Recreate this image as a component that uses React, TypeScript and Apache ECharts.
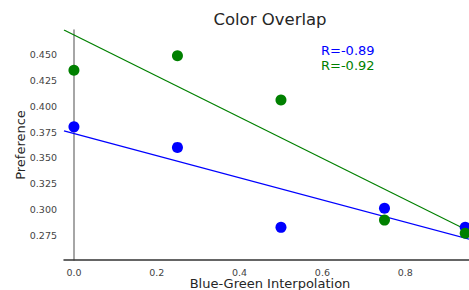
import React, { useEffect, useRef } from "react";
import * as echarts from "echarts";

const xValues = [0, 0.25, 0.5, 0.75, 0.945];
const blueValues = [0.380, 0.3602, 0.283, 0.3014, 0.283];
const greenValues = [0.4346, 0.4487, 0.4059, 0.290, 0.2773];
const blueFitX = [-0.024, 0.971];
const blueFitY = [0.3762, 0.2699];
const greenFitX = [-0.024, 0.971];
const greenFitY = [0.4735, 0.276];
const xTicks = [0, 0.2, 0.4, 0.6, 0.8];
const yTicks = [0.275, 0.3, 0.325, 0.35, 0.375, 0.4, 0.425, 0.45];
const rLabels = ["R=-0.89", "R=-0.92"];

const FONT = "DejaVu Sans";

export default function App() {
  const ref = useRef<HTMLDivElement>(null);
  useEffect(() => {
    if (!ref.current) return;
    const chart = echarts.init(ref.current, null, { renderer: "svg" });
    const pts = (ys: number[]) => xValues.map((x, i) => [x, ys[i]]);
    const fit = (xs: number[], ys: number[]) => xs.map((x, i) => [x, ys[i]]);
    chart.setOption({
      animation: false,
      backgroundColor: "#ffffff",
      grid: { left: 64, right: -7, top: 30, bottom: 30, containLabel: false, outerBoundsMode: "none" },
      xAxis: {
        type: "value",
        min: -0.024,
        max: 0.971,
        splitLine: { show: false },
        axisLine: { show: true, lineStyle: { color: "#333333", width: 1.5 } },
        axisTick: { show: false },
        axisLabel: {
          customValues: xTicks,
          formatter: (v: number) => v.toFixed(1),
          color: "#444444",
          fontFamily: FONT,
          fontSize: 9.5,
          margin: 7,
        },
        name: "Blue-Green Interpolation",
        nameLocation: "middle",
        nameGap: 17,
        nameMoveOverlap: false,
        nameTextStyle: { fontFamily: FONT, fontSize: 13, color: "#262626" },
      },
      yAxis: {
        type: "value",
        min: 0.2515,
        max: 0.4735,
        splitLine: { show: false },
        axisLine: { show: true, lineStyle: { color: "#888888", width: 1.5 } },
        axisTick: { show: false },
        axisLabel: {
          customValues: yTicks,
          formatter: (v: number) => v.toFixed(3),
          color: "#444444",
          fontFamily: FONT,
          fontSize: 9.5,
          margin: 7,
        },
        name: "Preference",
        nameLocation: "middle",
        nameGap: 37,
        nameMoveOverlap: false,
        nameTextStyle: { fontFamily: FONT, fontSize: 13, color: "#262626" },
      },
      series: [
        {
          type: "line",
          data: fit(greenFitX, greenFitY),
          showSymbol: false,
          lineStyle: { color: "green", width: 1.3 },
          z: 1,
        },
        {
          type: "line",
          data: fit(blueFitX, blueFitY),
          showSymbol: false,
          lineStyle: { color: "#0000ff", width: 1.3 },
          z: 1,
        },
        {
          type: "scatter",
          data: pts(blueValues),
          symbolSize: 11,
          itemStyle: { color: "#0000ff", opacity: 1 },
          z: 2,
        },
        {
          type: "scatter",
          data: pts(greenValues),
          symbolSize: 11,
          itemStyle: { color: "green", opacity: 1 },
          z: 3,
        },
      ],
      graphic: [
        {
          type: "text",
          x: 270,
          y: 19,
          style: {
            text: "Color Overlap",
            fontFamily: FONT,
            fontSize: 16.5,
            fill: "#262626",
            textAlign: "center",
            textVerticalAlign: "middle",
          },
        },
        {
          type: "text",
          x: 321,
          y: 50,
          style: {
            text: rLabels[0],
            fontFamily: FONT,
            fontSize: 13,
            fill: "#0000ff",
            textAlign: "left",
            textVerticalAlign: "middle",
          },
        },
        {
          type: "text",
          x: 321,
          y: 65,
          style: {
            text: rLabels[1],
            fontFamily: FONT,
            fontSize: 13,
            fill: "green",
            textAlign: "left",
            textVerticalAlign: "middle",
          },
        },
      ],
    });
    return () => chart.dispose();
  }, []);
  return (
    <div
      ref={ref}
      style={{ position: "fixed", left: 0, top: 0, width: 469, height: 290, background: "#fff" }}
    />
  );
}
